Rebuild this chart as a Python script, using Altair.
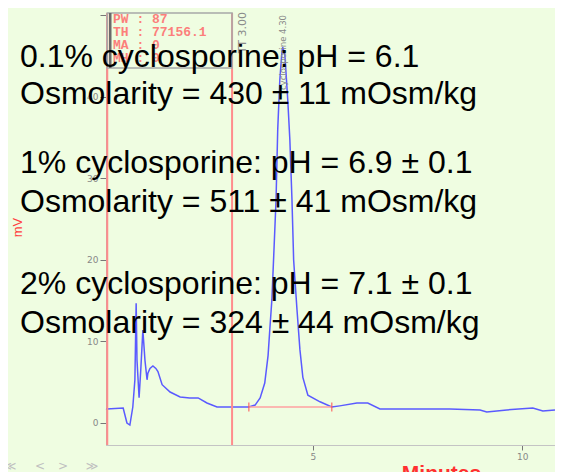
import altair as alt
import pandas as pd

# ---- data ----
trace_time = [0.06, 0.08, 0.47, 0.56, 0.63, 0.70, 0.75, 0.78, 0.80, 0.85, 0.89, 0.94, 0.99,
              1.04, 1.06, 1.11, 1.18, 1.25, 1.30, 1.40, 1.59, 1.83, 2.06, 2.26, 2.47, 2.71,
              3.07, 3.47, 3.62, 3.74, 3.85, 3.93, 3.97, 4.02, 4.07, 4.12, 4.16, 4.21, 4.26,
              4.28, 4.33, 4.40, 4.45, 4.50, 4.54, 4.62, 4.69, 4.76, 4.88, 5.17, 5.45, 5.64,
              6.05, 6.31, 6.60, 7.24, 8.27, 8.99, 9.15, 9.63, 10.25, 10.49, 10.78]
trace_mv = [1.75, 1.72, 1.84, 0.0, -0.25, 1.96, 5.3, 14.7, 7.7, 3.1, 6.5, 11.4, 7.7,
            5.3, 6.1, 6.7, 7.0, 6.7, 6.3, 4.7, 3.8, 3.2, 3.07, 3.07, 2.45, 1.96,
            1.96, 1.96, 2.2, 3.07, 4.9, 8.3, 11.4, 15.1, 21.2, 27.4, 36.0, 42.1, 45.5,
            46.1, 45.2, 39.6, 34.7, 27.4, 20.0, 13.9, 9.0, 5.6, 3.4, 2.6, 1.96, 2.1,
            2.45, 2.45, 1.72, 1.72, 1.72, 1.6, 1.35, 1.6, 1.84, 1.47, 1.6]

event_times = [0.09, 3.07]
event_label = "TT 3.00"
peak_time = [4.28]
peak_label = ["cyclosporine 4.30"]
baseline_start = [3.47]
baseline_end = [5.45]
baseline_level = [1.96]

box_lines = ["PW : 87", "TH : 77156.1", "MA : 0", "MH : 0"]
notes = ["0.1% cyclosporine: pH = 6.1",
         "Osmolarity = 430 ± 11 mOsm/kg",
         "1% cyclosporine: pH = 6.9 ± 0.1",
         "Osmolarity = 511 ± 41 mOsm/kg",
         "2% cyclosporine: pH = 7.1 ± 0.1",
         "Osmolarity = 324 ± 44 mOsm/kg"]
nav_symbols = ["≪", "<", ">", "≫"]
y_ticks = [0, 10, 20, 30, 40, 50]
x_ticks = [5, 10]

BG = "#effde1"
RED = "#ff8c8c"

xs = alt.Scale(domain=[0.06, 10.78], nice=False, zero=False)
ys = alt.Scale(domain=[-2.7, 50.3], nice=False, zero=False)
xaxis = alt.Axis(values=x_ticks, title="Minutes", grid=False, domainColor="#c4c4c4",
                 tickColor="#777", tickSize=5, labelColor="#888", labelFont="DejaVu Sans",
                 labelFontSize=9, labelPadding=2, titleColor="#ff3030", titleFont="Liberation Sans",
                 titleFontSize=21, titleFontWeight="bold", titleBaseline="top", titleY=17, titleX=335)
yaxis = alt.Axis(values=y_ticks, title="mV", grid=False, domainColor="#b0b0b0",
                 tickColor="#777", tickSize=6, labelColor="#888", labelFont="DejaVu Sans",
                 labelFontSize=9, labelPadding=2,
                 labelExpr="datum.value == 50 ? '' : datum.label",
                 titleColor="#ff4040", titleFont="Liberation Sans", titleFontSize=13,
                 titleFontWeight="normal", titleX=-89, titleY=214, titleAlign="center",
                 titleBaseline="middle")


def X(f):
    return alt.X(f, type="quantitative", scale=xs, axis=xaxis)


def Y(f):
    return alt.Y(f, type="quantitative", scale=ys, axis=yaxis)


trace_df = pd.DataFrame({"t": trace_time, "v": trace_mv})
trace = alt.Chart(trace_df).mark_line(color="#5a5aff", strokeWidth=1.5,
                                       interpolate="linear").encode(x=X("t"), y=Y("v"))

ev_df = pd.DataFrame({"t": event_times})
ev_rules = alt.Chart(ev_df).mark_rule(color=RED, strokeWidth=2).encode(x=X("t"))

box_df = pd.DataFrame({"t": [event_times[0]], "t2": [event_times[1]]})
box = alt.Chart(box_df).mark_rect(fill=BG, fillOpacity=0, stroke="#a8a8a8",
                                  strokeWidth=1.5).encode(
    x=X("t"), x2="t2", y=alt.value(0), y2=alt.value(55))
box_left = alt.Chart(box_df).mark_rule(color="#6a6a6a", strokeWidth=2.5, xOffset=3).encode(
    x=X("t"), y=alt.value(0), y2=alt.value(55))

box_layers = []
for i, s in enumerate(box_lines):
    box_layers.append(
        alt.Chart(pd.DataFrame({"s": [s]})).mark_text(
            align="left", baseline="alphabetic", font="Liberation Mono", fontWeight="bold",
            fontSize=13, color="#ff6a6a", opacity=0.85, x=7, y=10 + i * 13).encode(text="s:N"))

ev_lab = alt.Chart(pd.DataFrame({"t": [event_times[1]], "s": [event_label]})).mark_text(
    angle=270, align="right", baseline="middle", font="DejaVu Sans", fontSize=11,
    color="#8a8a8a", xOffset=11, y=-1).encode(x=X("t"), text="s:N")

pk_lab = alt.Chart(pd.DataFrame({"t": peak_time, "s": peak_label})).mark_text(
    angle=270, align="right", baseline="middle", font="DejaVu Sans", fontSize=8.5,
    color="#8a8a8a", y=2).encode(x=X("t"), text="s:N")

bl_df = pd.DataFrame({"t": baseline_start, "t2": baseline_end, "v": baseline_level})
bl = alt.Chart(bl_df).mark_rule(color="#ffa0a0", strokeWidth=1.5).encode(
    x=X("t"), x2="t2", y=Y("v"))
bl_ticks_df = pd.DataFrame({"t": baseline_start + baseline_end,
                            "v": baseline_level * 2})
bl_ticks = alt.Chart(bl_ticks_df).mark_tick(orient="vertical", size=9, thickness=1.5,
                                            color="#ff5555").encode(x=X("t"), y=Y("v"))

note_y = [54, 91, 160, 199, 281, 320]
note_layers = []
for s, yy in zip(notes, note_y):
    note_layers.append(
        alt.Chart(pd.DataFrame({"s": [s]})).mark_text(
            align="left", baseline="alphabetic", font="Liberation Sans", fontSize=32,
            color="#000000", x=-86, y=yy).encode(text="s:N"))

nav_x = [-96, -66, -43, -14]
nav_layers = []
for s, xx in zip(nav_symbols, nav_x):
    nav_layers.append(
        alt.Chart(pd.DataFrame({"s": [s]})).mark_text(
            align="center", baseline="middle", font="DejaVu Sans", fontSize=12,
            color="#c0c0c0", x=xx, y=453).encode(text="s:N"))

chart = alt.layer(trace, ev_rules, box, box_left, *box_layers, bl, bl_ticks, ev_lab, pk_lab,
                  *note_layers, *nav_layers).properties(
    width=449, height=432, background=BG,
    padding={"left": 98, "top": 5, "right": 0, "bottom": 27},
    autosize=alt.AutoSizeParams(type="none"),
).configure_view(stroke=None)

chart.save("out.html", embed_options={"renderer": "svg", "actions": False})
